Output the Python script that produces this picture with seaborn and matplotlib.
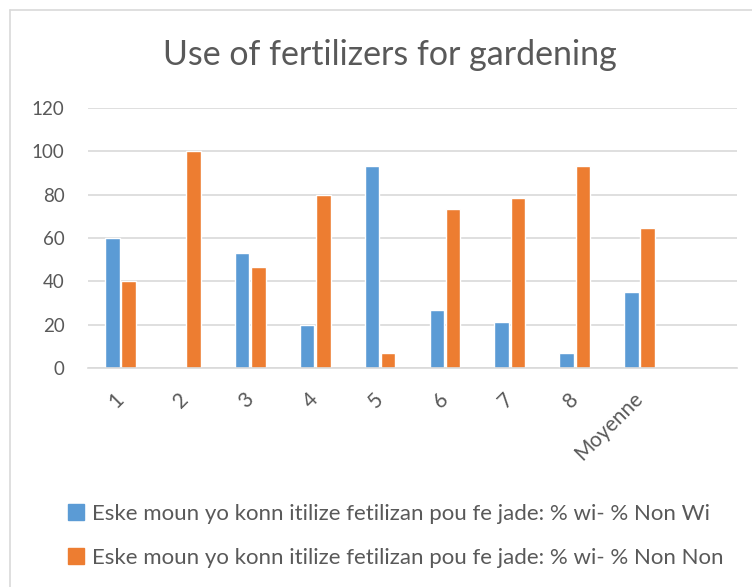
import pandas as pd
import matplotlib.pyplot as plt
import seaborn as sns
from matplotlib.lines import Line2D

categories = ['1', '2', '3', '4', '5', '6', '7', '8', 'Moyenne']
wi = [60, 0, 53.3, 20, 93.3, 26.7, 21.4, 6.7, 35.2]
non = [40, 100, 46.7, 80, 6.7, 73.3, 78.6, 93.3, 64.8]
series = ['Eske moun yo konn itilize fetilizan pou fe jade: % wi- % Non Wi',
          'Eske moun yo konn itilize fetilizan pou fe jade: % wi- % Non Non']
colors = ['#5B9BD5', '#ED7D31']

df = pd.DataFrame({
    'cat': categories * 2,
    'val': wi + non,
    'serie': [series[0]] * len(categories) + [series[1]] * len(categories),
})

sns.set_style('white')
plt.rcParams['font.family'] = ['Lato', 'DejaVu Sans']
txt = '#595959'

fig = plt.figure(figsize=(7.52, 5.87), dpi=100)
ax = fig.add_axes([88 / 752, 1 - 368 / 587, (737 - 88) / 752, (368 - 108) / 587])

sns.barplot(data=df, x='cat', y='val', hue='serie', order=categories,
            palette=colors, width=0.5, gap=0.1, ax=ax, legend=False,
            saturation=1)

ax.set_xlim(-0.5, 9.5)
ax.set_ylim(0, 120)
ax.set_yticks(range(0, 121, 20))
ax.grid(axis='y', color='#D9D9D9', linewidth=1.2)
ax.set_axisbelow(True)
for s in ['top', 'right', 'left']:
    ax.spines[s].set_visible(False)
ax.spines['bottom'].set_color('#D9D9D9')
ax.spines['bottom'].set_linewidth(1.2)
ax.set_xlabel('')
ax.set_ylabel('')
ax.tick_params(axis='both', length=0, labelcolor=txt)
ax.tick_params(axis='y', pad=17, labelsize=13.5)
ax.tick_params(axis='x', pad=20, labelsize=15)
plt.setp(ax.get_xticklabels(), rotation=45, ha='right', va='center', rotation_mode='anchor')

fig.text(390 / 752, 1 - 55 / 587, 'Use of fertilizers for gardening', ha='center', va='center',
         fontsize=24.5, color=txt)

handles = [Line2D([], [], marker='s', linestyle='', markersize=11, color=c) for c in colors]
fig.legend(handles, series, loc='center left', bbox_to_anchor=(46 / 752, 1 - 536 / 587),
           frameon=False, fontsize=16, labelcolor=txt, handlelength=0.9,
           handletextpad=0.25, labelspacing=1.1)

# chart border
fig.add_artist(plt.Line2D([10 / 752, 10 / 752], [0, 1 - 10 / 587], color='#D9D9D9', lw=1.2))
fig.add_artist(plt.Line2D([10 / 752, 1], [1 - 10 / 587, 1 - 10 / 587], color='#D9D9D9', lw=1.2))

fig.savefig('out.png', dpi=100)
